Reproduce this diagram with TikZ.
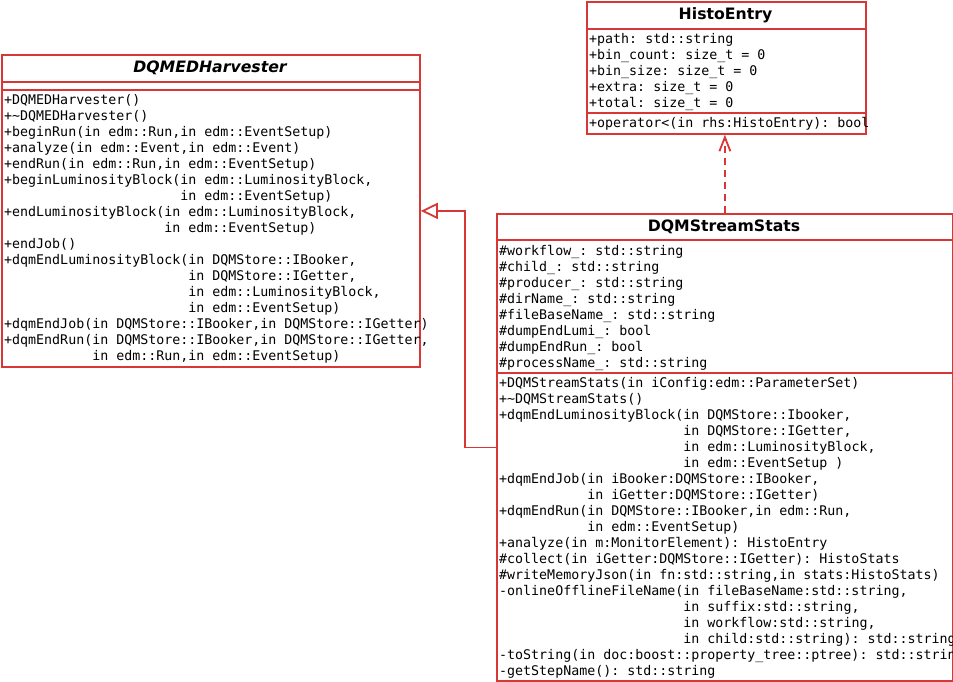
\documentclass[tikz,border=0pt]{standalone}
\usepackage{fontspec}
\setmainfont{DejaVu Sans}
\setsansfont{DejaVu Sans}
\setmonofont{DejaVu Sans Mono}
\usetikzlibrary{arrows.meta}
\definecolor{umlred}{RGB}{217,54,54}
\newcommand\ind[1]{\hspace*{#1\fontcharwd\font`0}}
\newcommand\st{\rule{0pt}{12pt}}
\begin{document}
\begin{tikzpicture}[x=1pt,y=-1pt,
  box/.style={draw=umlred, line width=1.8pt, fill=white, rectangle, inner sep=0pt, anchor=north west},
  ttl/.style={font=\fontsize{15.7}{18}\selectfont\bfseries\sffamily, inner sep=0pt, anchor=base},
  mem/.style={font=\fontsize{13.3}{16}\selectfont\ttfamily, align=left, anchor=north west, inner sep=0pt},
  divider/.style={draw=umlred, line width=1.8pt},
  gen/.style={draw=umlred, line width=1.8pt, -{Triangle[open, length=17pt, width=16pt, fill=white]}},
  dep/.style={draw=umlred, line width=1.8pt, dash pattern=on 7pt off 5pt, -{Straight Barb[length=14pt, width=11pt]}}]
\useasboundingbox (0,0) rectangle (953,681);

% ---------- DQMEDHarvester ----------
\node[box, minimum width=418pt, minimum height=312pt] (harv) at (1,54) {};
\draw[divider] (harv.north west |- 0,82) -- (harv.north east |- 0,82);
\draw[divider] (harv.north west |- 0,90) -- (harv.north east |- 0,90);
\node[ttl] (harvT) at (210,72.6) {\itshape DQMEDHarvester};
\node[mem] (harvM) at (4,92) {\st+DQMEDHarvester()\\
+\textasciitilde DQMEDHarvester()\\
+beginRun(in edm::Run,in edm::EventSetup)\\
+analyze(in edm::Event,in edm::Event)\\
+endRun(in edm::Run,in edm::EventSetup)\\
+beginLuminosityBlock(in edm::LuminosityBlock,\\
\ind{22}in edm::EventSetup)\\
+endLuminosityBlock(in edm::LuminosityBlock,\\
\ind{20}in edm::EventSetup)\\
+endJob()\\
+dqmEndLuminosityBlock(in DQMStore::IBooker,\\
\ind{23}in DQMStore::IGetter,\\
\ind{23}in edm::LuminosityBlock,\\
\ind{23}in edm::EventSetup)\\
+dqmEndJob(in DQMStore::IBooker,in DQMStore::IGetter)\\
+dqmEndRun(in DQMStore::IBooker,in DQMStore::IGetter,\\
\ind{11}in edm::Run,in edm::EventSetup)};

% ---------- HistoEntry ----------
\node[box, minimum width=279pt, minimum height=132pt] (histo) at (586,1) {};
\draw[divider] (histo.north west |- 0,29) -- (histo.north east |- 0,29);
\draw[divider] (histo.north west |- 0,113) -- (histo.north east |- 0,113);
\node[ttl] (histoT) at (725.5,19.6) {HistoEntry};
\node[mem] (histoA) at (589,31) {\st+path: std::string\\
+bin\_count: size\_t = 0\\
+bin\_size: size\_t = 0\\
+extra: size\_t = 0\\
+total: size\_t = 0};
\node[mem] (histoM) at (589,115) {\st+operator<(in rhs:HistoEntry): bool};

% ---------- DQMStreamStats ----------
\node[box, minimum width=456pt, minimum height=467pt] (stats) at (496,213) {};
\draw[divider] (stats.north west |- 0,240) -- (stats.north east |- 0,240);
\draw[divider] (stats.north west |- 0,373) -- (stats.north east |- 0,373);
\node[ttl] (statsT) at (724,231.6) {DQMStreamStats};
\node[mem] (statsA) at (499,243) {\st\#workflow\_: std::string\\
\#child\_: std::string\\
\#producer\_: std::string\\
\#dirName\_: std::string\\
\#fileBaseName\_: std::string\\
\#dumpEndLumi\_: bool\\
\#dumpEndRun\_: bool\\
\#processName\_: std::string};
\node[mem] (statsM) at (499,375) {\st+DQMStreamStats(in iConfig:edm::ParameterSet)\\
+\textasciitilde DQMStreamStats()\\
+dqmEndLuminosityBlock(in DQMStore::Ibooker,\\
\ind{23}in DQMStore::IGetter,\\
\ind{23}in edm::LuminosityBlock,\\
\ind{23}in edm::EventSetup )\\
+dqmEndJob(in iBooker:DQMStore::IBooker,\\
\ind{11}in iGetter:DQMStore::IGetter)\\
+dqmEndRun(in DQMStore::IBooker,in edm::Run,\\
\ind{11}in edm::EventSetup)\\
+analyze(in m:MonitorElement): HistoEntry\\
\#collect(in iGetter:DQMStore::IGetter): HistoStats\\
\#writeMemoryJson(in fn:std::string,in stats:HistoStats)\\
-onlineOfflineFileName(in fileBaseName:std::string,\\
\ind{23}in suffix:std::string,\\
\ind{23}in workflow:std::string,\\
\ind{23}in child:std::string): std::string\\
-toString(in doc:boost::property\_tree::ptree): std::string\\
-getStepName(): std::string};

% ---------- connectors ----------
\draw[gen] (stats.west) -- ++(-31,0) |- (harv.east);
\draw[dep] (stats.north) -- (stats.north |- histo.south);
\end{tikzpicture}
\end{document}
